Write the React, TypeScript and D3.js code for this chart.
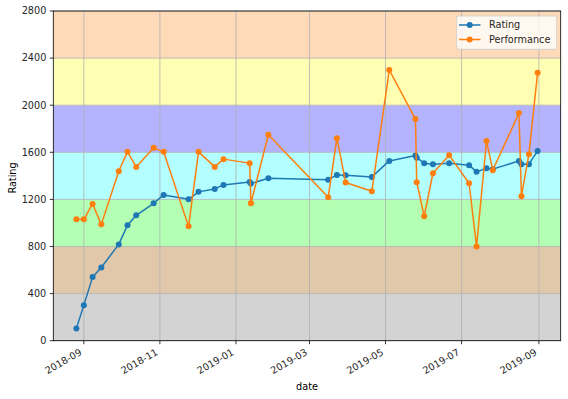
import * as d3 from 'd3';
import * as React from 'react';
import { Component } from 'react';

// contest dates and the two series
const dates = ['2018-08-26', '2018-09-01', '2018-09-08', '2018-09-15', '2018-09-29', '2018-10-06', '2018-10-13',
  '2018-10-27', '2018-11-04', '2018-11-24', '2018-12-02', '2018-12-15', '2018-12-22', '2019-01-12', '2019-01-13',
  '2019-01-27', '2019-03-16', '2019-03-23', '2019-03-30', '2019-04-20', '2019-05-04', '2019-05-25', '2019-05-26',
  '2019-06-01', '2019-06-08', '2019-06-21', '2019-07-07', '2019-07-13', '2019-07-21', '2019-07-26', '2019-08-16',
  '2019-08-18', '2019-08-24', '2019-08-31'];

const rating = [104, 302, 540, 622, 818, 980, 1065, 1167, 1238, 1201, 1264, 1289, 1323, 1347, 1334, 1380,
  1366, 1408, 1405, 1391, 1527, 1573, 1554, 1508, 1499, 1508, 1491, 1434, 1465, 1457, 1527, 1499, 1499, 1612];

const performance = [1031, 1031, 1161, 988, 1439, 1604, 1476, 1638, 1604, 971, 1604, 1476, 1542, 1508, 1167, 1749,
  1218, 1720, 1343, 1269, 2299, 1882, 1346, 1057, 1422, 1576, 1337, 801, 1695, 1448, 1933, 1227, 1584, 2276];

const bandEdges = [0, 400, 800, 1200, 1600, 2000, 2400, 2800];
const bandColors = ['#d3d3d3', '#e1c8aa', '#b3ffb3', '#b3ffff', '#b3b3ff', '#ffffb3', '#ffdab9'];
const yTicks = [0, 400, 800, 1200, 1600, 2000, 2400, 2800];

const seriesNames = ['Rating', 'Performance'];
const seriesColors = ['#1f77b4', '#ff7f0e'];

class RatingChart extends Component<{}> {

  private chartElement: any;

  componentDidMount() {
    document.body.style.margin = '0';
    this.renderChart();
  }

  renderChart() {
    const width = 568,
      height = 399;

    const plot = { left: 53.3, top: 11, right: 560.7, bottom: 340.7 };
    const font = 'DejaVu Sans, sans-serif';
    const fontSize = '9.7px';

    const parse = d3.timeParse('%Y-%m-%d');
    const times = dates.map(d => parse(d) as Date);

    // matplotlib style 5% margin on the x data range
    const t0 = +times[0], t1 = +times[times.length - 1];
    const pad = (t1 - t0) * 0.05;
    const x = d3.scaleTime().domain([new Date(t0 - pad), new Date(t1 + pad)]).range([plot.left, plot.right]);
    const y = d3.scaleLinear().domain([0, 2800]).range([plot.bottom, plot.top]);

    d3.select(this.chartElement).selectAll('*').remove();

    let svg = d3.select(this.chartElement)
      .append('svg')
      .attr('width', width)
      .attr('height', height)
      .style('display', 'block')
      .style('font-family', font);

    svg.append('rect')
      .attr('width', width)
      .attr('height', height)
      .attr('fill', 'white');

    // rating colour bands
    svg.selectAll('.band')
      .data(bandColors)
      .enter()
      .append('rect')
      .attr('class', 'band')
      .attr('x', plot.left)
      .attr('width', plot.right - plot.left)
      .attr('y', (c, i) => y(bandEdges[i + 1]))
      .attr('height', (c, i) => y(bandEdges[i]) - y(bandEdges[i + 1]))
      .attr('fill', c => c);

    const xTicks = x.ticks(d3.timeMonth.every(2) as any);

    // grid
    let grid = svg.append('g').attr('stroke', '#b0b0b0').attr('stroke-width', 0.8);
    grid.selectAll('.gx')
      .data(xTicks)
      .enter()
      .append('line')
      .attr('x1', d => x(d)).attr('x2', d => x(d))
      .attr('y1', plot.top).attr('y2', plot.bottom);
    grid.selectAll('.gy')
      .data(yTicks)
      .enter()
      .append('line')
      .attr('x1', plot.left).attr('x2', plot.right)
      .attr('y1', d => y(d)).attr('y2', d => y(d));

    // series
    const allSeries = [rating, performance];
    allSeries.forEach((values, s) => {
      const line = d3.line<number>()
        .x((v, i) => x(times[i]))
        .y(v => y(v));
      svg.append('path')
        .attr('d', line(values) as string)
        .attr('fill', 'none')
        .attr('stroke', seriesColors[s])
        .attr('stroke-width', 1.5)
        .attr('stroke-linejoin', 'round');
      svg.append('g')
        .selectAll('circle')
        .data(values)
        .enter()
        .append('circle')
        .attr('cx', (v, i) => x(times[i]))
        .attr('cy', v => y(v))
        .attr('r', 3)
        .attr('fill', seriesColors[s]);
    });

    // frame
    svg.append('rect')
      .attr('x', plot.left)
      .attr('y', plot.top)
      .attr('width', plot.right - plot.left)
      .attr('height', plot.bottom - plot.top)
      .attr('fill', 'none')
      .attr('stroke', 'black')
      .attr('stroke-width', 0.8);

    // y axis ticks
    let yAxis = svg.append('g');
    yTicks.forEach(t => {
      yAxis.append('line')
        .attr('x1', plot.left - 3.5).attr('x2', plot.left)
        .attr('y1', y(t)).attr('y2', y(t))
        .attr('stroke', 'black').attr('stroke-width', 0.8);
      yAxis.append('text')
        .attr('x', plot.left - 7)
        .attr('y', y(t))
        .attr('dy', '0.35em')
        .attr('text-anchor', 'end')
        .attr('font-size', fontSize)
        .attr('fill', '#262626')
        .text(t);
    });

    // x axis ticks, rotated like autofmt_xdate
    const fmt = d3.timeFormat('%Y-%m');
    let xAxis = svg.append('g');
    xTicks.forEach(t => {
      const px = x(t);
      xAxis.append('line')
        .attr('x1', px).attr('x2', px)
        .attr('y1', plot.bottom).attr('y2', plot.bottom + 3.5)
        .attr('stroke', 'black').attr('stroke-width', 0.8);
      xAxis.append('text')
        .attr('transform', 'translate(' + (px - 5) + ',' + (plot.bottom + 7) + ') rotate(-30)')
        .attr('dy', '0.76em')
        .attr('text-anchor', 'end')
        .attr('font-size', fontSize)
        .attr('fill', '#262626')
        .text(fmt(t));
    });

    svg.append('text')
      .attr('transform', 'translate(15.5,178) rotate(-90)')
      .attr('text-anchor', 'middle')
      .attr('font-size', fontSize)
      .text('Rating');

    svg.append('text')
      .attr('x', (plot.left + plot.right) / 2)
      .attr('y', 390)
      .attr('text-anchor', 'middle')
      .attr('font-size', fontSize)
      .text('date');

    // legend
    let legend = svg.append('g');
    legend.append('rect')
      .attr('x', 456.7)
      .attr('y', 16)
      .attr('width', 100)
      .attr('height', 33.3)
      .attr('rx', 2)
      .attr('fill', 'white')
      .attr('fill-opacity', 0.8)
      .attr('stroke', '#cccccc')
      .attr('stroke-width', 0.8);
    seriesNames.forEach((name, i) => {
      const ly = 25 + i * 14.5;
      legend.append('line')
        .attr('x1', 459).attr('x2', 480.5)
        .attr('y1', ly).attr('y2', ly)
        .attr('stroke', seriesColors[i]).attr('stroke-width', 1.5);
      legend.append('circle')
        .attr('cx', 469.7).attr('cy', ly).attr('r', 3)
        .attr('fill', seriesColors[i]);
      legend.append('text')
        .attr('x', 489)
        .attr('y', ly)
        .attr('dy', '0.35em')
        .attr('font-size', fontSize)
        .attr('fill', '#262626')
        .text(name);
    });
  }

  render() {
    return (
      <div>
        <div className="RatingChart" ref={el => { this.chartElement = el; }}></div>
      </div>
    )
  }
}

export default function App() {
  return <RatingChart />;
}
